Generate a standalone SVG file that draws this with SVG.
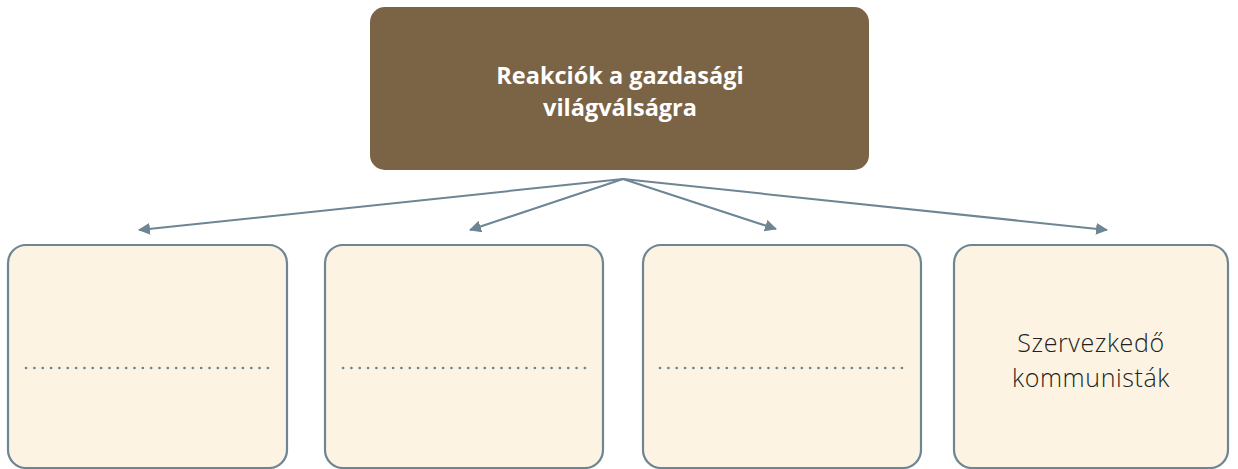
<svg xmlns="http://www.w3.org/2000/svg" width="1238" height="469" viewBox="0 0 1238 469">
<style>
.sub{fill:#fcf3e3;stroke:#6e8593;stroke-width:2.2}
.dots{stroke:#6e8593;stroke-width:2.6;stroke-dasharray:0.1 8.24;stroke-linecap:round}
.conn{stroke:#6e8593;stroke-width:2;fill:none}
.t1{font-family:"Open Sans","Noto Sans",sans-serif;font-weight:700;font-size:23.5px;fill:#ffffff;text-anchor:middle}
.t2{font-family:"Open Sans","Noto Sans",sans-serif;font-weight:300;font-size:25px;letter-spacing:0.6px;fill:#231f20;text-anchor:middle}
</style>
<defs>
<marker id="ah" viewBox="0 0 12 12" refX="11" refY="6" markerWidth="12" markerHeight="12" markerUnits="userSpaceOnUse" orient="auto">
<path d="M0,0 L12,6 L0,12 z" fill="#6e8593"/>
</marker>
</defs>
<rect width="1238" height="469" fill="#ffffff"/>
<g id="root">
<rect x="370" y="7" width="499" height="163" rx="15" fill="#7b6345"/>
<text class="t1" x="620" y="84">Reakciók a gazdasági</text>
<text class="t1" x="620" y="116">világválságra</text>
</g>
<g id="connectors">
<line class="conn" x1="623" y1="179" x2="139" y2="230" marker-end="url(#ah)"/>
<line class="conn" x1="623" y1="179" x2="470" y2="230" marker-end="url(#ah)"/>
<line class="conn" x1="623" y1="179" x2="776" y2="229" marker-end="url(#ah)"/>
<line class="conn" x1="623" y1="179" x2="1107" y2="230" marker-end="url(#ah)"/>
</g>
<g id="box1">
<rect class="sub" x="8" y="245" width="279" height="223" rx="18"/>
<line class="dots" x1="26" y1="368" x2="269" y2="368"/>
</g>
<g id="box2">
<rect class="sub" x="325" y="245" width="278" height="223" rx="18"/>
<line class="dots" x1="343" y1="368" x2="586" y2="368"/>
</g>
<g id="box3">
<rect class="sub" x="643" y="245" width="278" height="223" rx="18"/>
<line class="dots" x1="660" y1="368" x2="903" y2="368"/>
</g>
<g id="box4">
<rect class="sub" x="954" y="245" width="274" height="223" rx="18"/>
<text class="t2" x="1091" y="352">Szervezkedő</text>
<text class="t2" x="1091" y="387">kommunisták</text>
</g>
</svg>
